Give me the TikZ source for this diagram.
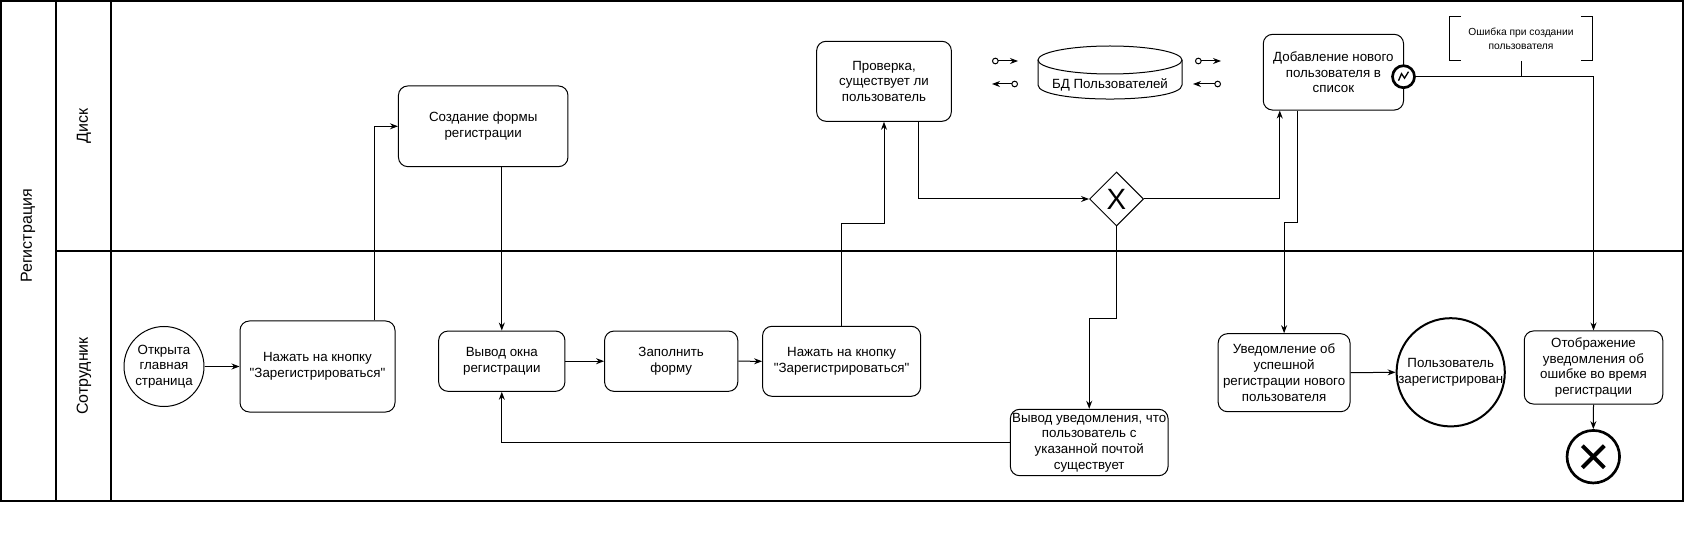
\documentclass[tikz,border=0pt]{standalone}
\usepackage{fontspec}
\setmainfont{Liberation Sans}
\usetikzlibrary{arrows.meta,shapes.geometric,calc}

\tikzset{every picture/.style={line width=0.75pt}}
\tikzset{
  task/.style={draw, rounded corners=7pt, align=center, inner sep=1pt, font=\fontsize{10}{11.8}\selectfont},
  flow/.style={-{Stealth[length=6pt,width=4.5pt]}},
  dataflow/.style={{Circle[open,length=5pt]}-{Stealth[length=6pt,width=4.5pt]}},
  lanetitle/.style={rotate=90, font=\fontsize{12}{14}\selectfont},
  lanerule/.style={line width=1.5pt},
}

\begin{document}
\begin{tikzpicture}[x=0.75pt,y=0.75pt,yscale=-1,xscale=1]
\useasboundingbox (0,0) rectangle (1685,552);

%Pool and lanes
\draw [lanerule] (1,1) rectangle (1683,501);
\draw [lanerule] (56,1) -- (56,501);
\draw [lanerule] (111,1) -- (111,501);
\draw [lanerule] (56,251) -- (1683,251);

% Text Node
\node [lanetitle] (pool) at (28,236) {Регистрация};
% Text Node
\node [lanetitle] (lanedisk) at (84,126) {Диск};
% Text Node
\node [lanetitle] (laneemp) at (84,376) {Сотрудник};

%Shape: Circle
\node [draw, circle, minimum size=60pt, inner sep=0pt, align=center, font=\fontsize{10}{11.6}\selectfont] (start) at (164,366.5) {Открыта\\главная\\страница};
%Rounded Rect
\node [task, minimum width=116.25pt, minimum height=68.25pt] (btn1) at (317.5,366.5) {Нажать на кнопку\\\textquotedbl Зарегистрироваться\textquotedbl};
%Rounded Rect
\node [task, minimum width=127.1pt, minimum height=60.5pt] (create) at (483.2,126.3) {Создание формы\\регистрации};
%Rounded Rect
\node [task, minimum width=94.7pt, minimum height=45.2pt] (showform) at (501.8,361.2) {Вывод окна\\регистрации};
%Rounded Rect
\node [task, minimum width=99.9pt, minimum height=45.2pt] (fill) at (671.2,361.2) {Заполнить\\форму};
%Rounded Rect
\node [task, minimum width=118.5pt, minimum height=52.5pt] (btn2) at (841.6,361.3) {Нажать на кнопку\\\textquotedbl Зарегистрироваться\textquotedbl};
%Rounded Rect
\node [task, minimum width=101pt, minimum height=60pt] (check) at (884,81.3) {Проверка,\\существует ли\\пользователь};
%Rounded Rect
\node [task, minimum width=118.3pt, minimum height=49.8pt] (exists) at (1089.2,442.5) {Вывод уведомления, что\\пользователь с\\указанной почтой\\существует};
%Rounded Rect
\node [task, minimum width=105.2pt, minimum height=56.8pt] (add) at (1333.4,72.2) {Добавление нового\\пользователя в\\список};
%Rounded Rect
\node [task, minimum width=98.9pt, minimum height=58.5pt] (success) at (1284.1,372.7) {Уведомление об\\успешной\\регистрации нового\\пользователя};
%Rounded Rect
\node [task, minimum width=103.9pt, minimum height=54.8pt] (errshow) at (1593.5,367.5) {Отображение\\уведомления об\\ошибке во время\\регистрации};

%Shape: Diamond
\node [draw, diamond, minimum width=40.5pt, minimum height=40.5pt, inner sep=0pt, font=\fontsize{22}{22}\selectfont] (gw) at (1116.5,199) {X};

%Shape: Circle
\node [draw, circle, line width=1.5pt, minimum size=75.75pt, inner sep=0pt, align=center, font=\fontsize{10}{11.6}\selectfont] (endok) at (1450.7,372.3) {Пользователь\\зарегистрирован};
%Shape: Circle
\node [draw, circle, line width=2pt, minimum size=39.4pt, inner sep=0pt] (enderr) at (1593.3,456.7) {};
\draw [line width=3pt] ($(enderr)+(-11,-11)$) -- ($(enderr)+(11,11)$);
\draw [line width=3pt] ($(enderr)+(-11,11)$) -- ($(enderr)+(11,-11)$);

%Shape: Circle
\node [draw, circle, line width=2pt, fill=white, minimum size=16.5pt, inner sep=0pt] (errb) at (1403.5,76.7) {};
\draw [line width=1pt] ($(errb)+(-5,4)$) -- ($(errb)+(-2,-3)$) -- ($(errb)+(1,1.5)$) -- ($(errb)+(5,-5)$);

%Shape: Can
\draw (1110,60) ellipse [x radius=54pt, y radius=10.5pt];
\draw (1038,60) -- (1038,85) .. controls (1038,103.7) and (1182,103.7) .. (1182,85) -- (1182,60);
% Text Node
\node [font=\fontsize{10}{11.8}\selectfont] (db) at (1110,85) {БД Пользователей};

% Text Node
\node [minimum width=107pt, minimum height=32.25pt, align=center, inner sep=0pt, font=\fontsize{7.7}{10}\selectfont] (note) at (1521,38.8) {Ошибка при создании\\пользователя};
\draw (note.north west) ++(12,0) -- (note.north west) -- (note.south west) -- ++(12,0);
\draw (note.north east) ++(-12,0) -- (note.north east) -- (note.south east) -- ++(-12,0);

%Data associations
\coordinate (inA) at (992,61);
\coordinate (inB) at (1018,61);
\coordinate (outA) at (1018,84);
\coordinate (outB) at (992,84);
\coordinate (inC) at (1195,61);
\coordinate (inD) at (1221,61);
\coordinate (outC) at (1221,84);
\coordinate (outD) at (1193,84);
\draw [dataflow] (inA) -- (inB);
\draw [dataflow] (outA) -- (outB);
\draw [dataflow] (inC) -- (inD);
\draw [dataflow] (outC) -- (outD);

%Straight Lines
\draw [flow] (start.east) -- (btn1.west);
\draw [flow] ($(btn1.north east)+(-21,0)$) |- (create.west);
\draw [flow] (create.south -| showform.north) -- (showform.north);
\draw [flow] (showform.east) -- (fill.west);
\draw [flow] (fill.east) -- (btn2.west);
\draw [flow] (btn2.north) -- ++(0,-102) -| (check.south);
\draw [flow] ($(check.south east)+(-33,0)$) |- (gw.west);
\draw [flow] (gw.east) -| ($(add.south west)+(17,0)$);
\draw [flow] (gw.south) -- ++(0,92) -| (exists.north);
\draw [flow] (exists.west) -| (showform.south);
\draw [flow] ($(add.south west)+(35,0)$) -- ++(0,111.7) -| (success.north);
\draw [flow] (success.east) -- (endok.west);
\draw [flow] (errb.east) -| (errshow.north);
\draw [flow] (errshow.south) -- (enderr.north);
\draw (note.south) -- (note.south |- errb.east);

\end{tikzpicture}
\end{document}
